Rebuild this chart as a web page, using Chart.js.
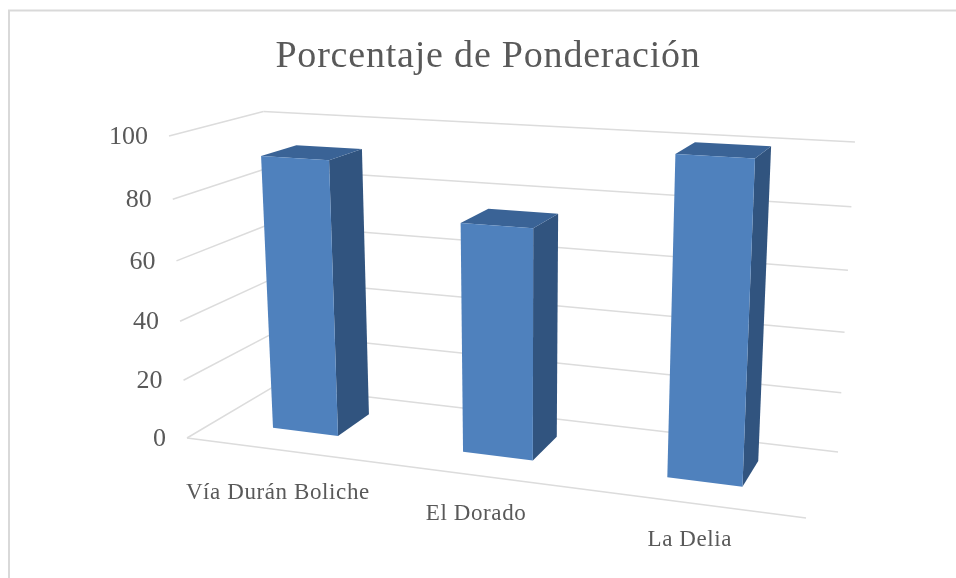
<!DOCTYPE html>
<html>
<head>
<meta charset="utf-8">
<style>html,body{margin:0;padding:0;background:#fff}canvas{display:block;filter:blur(0.45px)}</style>
<script src="https://cdn.jsdelivr.net/npm/chart.js@4"></script>
</head>
<body>
<canvas id="c" width="956" height="578"></canvas>
<script>
const categories = ['Vía Durán Boliche', 'El Dorado', 'La Delia'];
const ponderacion = [92, 75, 100];
const tickValues = [0, 20, 40, 60, 80, 100];
const chartTitle = 'Porcentaje de Ponderación';

// Perspective camera: u along categories, v along values, w into the depth (all 0..1)
function project(u, v, w) {
  const den = 1 - 0.1066 * u + 0.1055 * w - 0.055 * v;
  return [
    (187 + 533.1 * u + 117 * w - 27.3 * v - 2.8 * u * v) / den,
    (438 + 24.8 * u - 11.3 * w - 309.5 * v - 8 * u * v) / den
  ];
}
const BAR_W0 = 0.31, BAR_W1 = 0.71, BAR_SHIFT = -0.004;
const FONT = '"Liberation Serif", serif';
const TEXT = '#595959';
const GRID = '#dcdcdc';
const FRONT = '#4f81bd', SIDE = '#31547f', TOP = '#3a6396';

function poly(ctx, pts, fill) {
  ctx.beginPath();
  pts.forEach((p, i) => i ? ctx.lineTo(p[0], p[1]) : ctx.moveTo(p[0], p[1]));
  ctx.closePath();
  ctx.fillStyle = fill;
  ctx.fill();
}
function seg(ctx, a, b) {
  ctx.beginPath(); ctx.moveTo(a[0], a[1]); ctx.lineTo(b[0], b[1]); ctx.stroke();
}

const perspective = {
  id: 'perspective',
  beforeDraw(chart) {
    const ctx = chart.ctx;
    ctx.save();
    ctx.strokeStyle = '#d9d9d9';
    ctx.lineWidth = 2;
    ctx.beginPath();
    ctx.moveTo(9, 578); ctx.lineTo(9, 10.5); ctx.lineTo(956, 10.5);
    ctx.stroke();
    ctx.restore();
    ctx.letterSpacing = '0.8px';
  },
  beforeDatasetsDraw(chart) {
    const ctx = chart.ctx, area = chart.chartArea;
    const yS = chart.scales.y, xS = chart.scales.x;
    const toV = px => (yS.bottom - px) / (yS.bottom - yS.top);
    const toU = px => (px - area.left) / (area.right - area.left);
    ctx.save();
    // walls and floor
    ctx.strokeStyle = GRID;
    ctx.lineWidth = 1.5;
    yS.ticks.forEach(t => {
      const v = toV(yS.getPixelForValue(t.value));
      seg(ctx, project(0, v, 0), project(0, v, 1));
      seg(ctx, project(0, v, 1), project(1, v, 1));
    });
    seg(ctx, project(0, 0, 0), project(1, 0, 0));
    // value labels
    ctx.fillStyle = TEXT;
    ctx.letterSpacing = '0px';
    ctx.font = '26px ' + FONT;
    ctx.textAlign = 'right';
    ctx.textBaseline = 'middle';
    yS.ticks.forEach(t => {
      const p = project(0, toV(yS.getPixelForValue(t.value)), 0);
      ctx.fillText(String(t.value), p[0] - 21, p[1] + 1);
    });
    // category labels
    ctx.letterSpacing = '0.6px';
    ctx.font = '23px ' + FONT;
    ctx.textAlign = 'center';
    const nudgeY = [43, 38, 37];
    categories.forEach((c, i) => {
      const p = project(toU(xS.getPixelForValue(i)), 0, 0);
      ctx.fillText(c, p[0] - 3, p[1] + nudgeY[i]);
    });
    ctx.letterSpacing = '0px';
    // bars
    chart.getDatasetMeta(0).data.forEach(el => {
      const u0 = toU(el.x - el.width / 2) + BAR_SHIFT, u1 = toU(el.x + el.width / 2) + BAR_SHIFT;
      const v1 = toV(el.y), v0 = toV(el.base);
      const a = BAR_W0, b = BAR_W1;
      poly(ctx, [project(u1, v0, a), project(u1, v0, b), project(u1, v1, b), project(u1, v1, a)], SIDE);
      poly(ctx, [project(u0, v1, a), project(u1, v1, a), project(u1, v1, b), project(u0, v1, b)], TOP);
      poly(ctx, [project(u0, v0, a), project(u1, v0, a), project(u1, v1, a), project(u0, v1, a)], FRONT);
    });
    ctx.restore();
    return false;
  }
};

new Chart(document.getElementById('c'), {
  type: 'bar',
  data: {
    labels: categories,
    datasets: [{ label: 'Ponderación', data: ponderacion, backgroundColor: FRONT, barPercentage: 0.35, categoryPercentage: 1 }]
  },
  options: {
    responsive: false,
    animation: false,
    layout: { padding: { left: 20 } },
    plugins: {
      legend: { display: false },
      tooltip: { enabled: false },
      title: {
        display: true, text: chartTitle, color: TEXT,
        font: { family: FONT, size: 38, weight: 'normal' },
        padding: { top: 34, bottom: 20 }
      }
    },
    scales: {
      x: { display: false },
      y: { display: false, min: 0, max: 100, ticks: { stepSize: 20 },
           afterBuildTicks(s) { s.ticks = tickValues.map(value => ({ value })); } }
    }
  },
  plugins: [perspective]
});
</script>
</body>
</html>
